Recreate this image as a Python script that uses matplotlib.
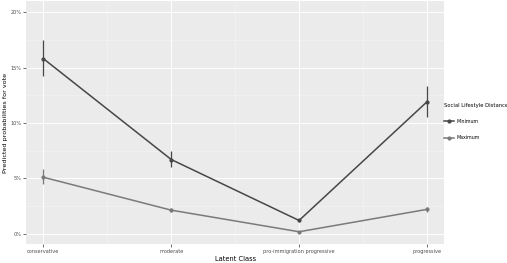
import numpy as np
import matplotlib.pyplot as plt
from matplotlib.lines import Line2D
from matplotlib.ticker import FuncFormatter

classes = ['conservative', 'moderate', 'pro-immigration progressive', 'progressive']
min_fit = [15.8, 6.7, 1.2, 11.9]
min_lo = [14.2, 6.0, 1.05, 10.5]
min_hi = [17.5, 7.45, 1.35, 13.35]
max_fit = [5.1, 2.13, 0.18, 2.2]
max_lo = [4.45, 1.98, 0.12, 1.95]
max_hi = [5.85, 2.28, 0.24, 2.45]

fig = plt.figure(figsize=(5.07, 2.63), dpi=100)
ax = fig.add_axes([0.0513, 0.072, 0.825, 0.924])
ax.set_facecolor('#EBEBEB')
x = np.arange(len(classes))

for fit, lo, hi, col in [(min_fit, min_lo, min_hi, '#474747'), (max_fit, max_lo, max_hi, '#7a7a7a')]:
    ax.plot(x, fit, color=col, lw=1.1, marker='o', ms=2, zorder=3)
    ax.vlines(x, lo, hi, color=col, lw=0.9, zorder=3)

ax.set_xlim(-0.136, 3.136)
ax.set_ylim(-0.93, 21.0)
ax.set_xticks(x)
ax.set_xticklabels(classes)
ax.set_yticks([0, 5, 10, 15, 20])
ax.yaxis.set_major_formatter(FuncFormatter(lambda v, p: '%d%%' % v))
ax.set_yticks([2.5, 7.5, 12.5, 17.5], minor=True)
ax.set_xticks([0.5, 1.5, 2.5], minor=True)
ax.grid(which='major', color='white', lw=0.7)
ax.grid(which='minor', color='#F5F5F5', lw=0.4)
ax.set_axisbelow(True)
for s in ax.spines.values():
    s.set_visible(False)
ax.tick_params(which='major', length=2, width=0.5, color='#333333', labelsize=3.6, labelcolor='#4D4D4D', pad=1.2)
ax.tick_params(which='minor', length=0)
ax.set_xlabel('Latent Class', fontsize=4.8, labelpad=1.5)
ax.set_ylabel('Predicted probabilities for vote', fontsize=4.6, labelpad=1.5)

handles = [Line2D([0], [0], color='#474747', lw=1.1, marker='o', ms=2),
           Line2D([0], [0], color='#7a7a7a', lw=1.1, marker='o', ms=2)]
leg = fig.legend(handles, ['Minimum', 'Maximum'], title='Social Lifestyle Distance',
                 loc='upper left', bbox_to_anchor=(0.875, 0.612), frameon=False,
                 fontsize=3.4, title_fontsize=3.8, handlelength=2.0, labelspacing=2.4,
                 handletextpad=0.6, borderpad=0.1, borderaxespad=0)
leg._legend_box.align = 'left'
leg.get_title().set_position((0, 0))

fig.savefig('out.png', dpi=100)
